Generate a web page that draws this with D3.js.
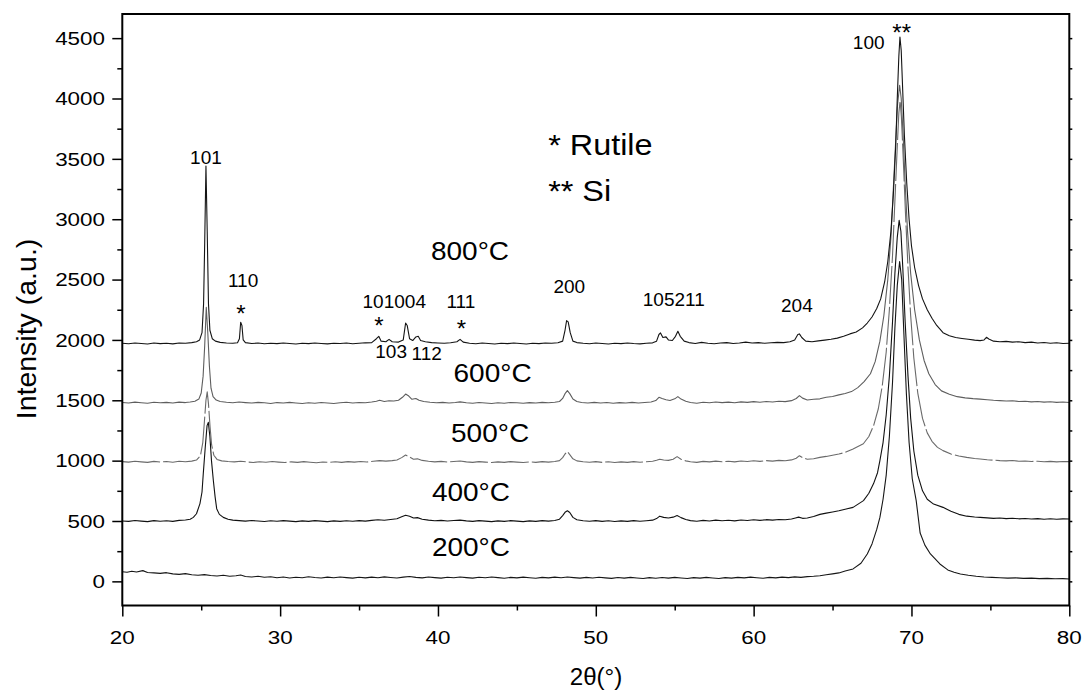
<!DOCTYPE html>
<html>
<head>
<meta charset="utf-8">
<script src="https://cdn.jsdelivr.net/npm/d3@7"></script>
<style>
  body { margin: 0; background: #fff; }
  svg { display: block; }
  text { font-family: "Liberation Sans", Arial, sans-serif; fill: #000; }
</style>
</head>
<body>
<svg id="chart" width="1085" height="690"></svg>
<script>
// ---- axis ticks ----
const xMajorTicks = [20, 30, 40, 50, 60, 70, 80];
const xMinorTicks = [25, 35, 45, 55, 65, 75];
const yMajorTicks = [0, 500, 1000, 1500, 2000, 2500, 3000, 3500, 4000, 4500];
const yMinorTicks = [250, 750, 1250, 1750, 2250, 2750, 3250, 3750, 4250];

// ---- XRD patterns: [2theta (deg), intensity (a.u.)] ----
const pattern800 = [
  [20.0,1972],[20.4,1968],[20.8,1975],[21.2,1970],[21.6,1966],[22.0,1974],[22.4,1969],[22.8,1973],[23.2,1967],[23.6,1975],
  [24.0,1972],[24.4,1978],[24.7,1985],[24.9,2000],[25.05,2060],[25.15,2300],[25.22,2800],[25.3,3440],[25.38,2900],[25.46,2300],
  [25.55,2080],[25.7,2010],[25.9,1990],[26.2,1980],[26.6,1975],[27.0,1972],[27.3,1976],[27.42,2010],[27.5,2146],[27.58,2120],
  [27.66,2000],[27.8,1978],[28.2,1970],[28.6,1974],[29.0,1968],[29.4,1973],[29.8,1969],[30.2,1975],[30.6,1970],[31.0,1966],
  [31.4,1972],[31.8,1969],[32.2,1975],[32.6,1971],[33.0,1967],[33.4,1973],[33.8,1970],[34.2,1975],[34.6,1968],[35.0,1972],
  [35.4,1976],[35.8,1978],[36.1,2010],[36.25,2030],[36.4,1990],[36.7,1985],[36.9,2005],[37.1,1985],[37.5,1982],[37.8,2000],
  [37.95,2140],[38.05,2120],[38.2,2010],[38.4,1995],[38.6,2025],[38.75,2030],[38.9,1995],[39.2,1985],[39.6,1978],[40.0,1975],
  [40.4,1972],[40.8,1976],[41.2,1985],[41.4,2005],[41.6,1982],[42.0,1972],[42.4,1968],[42.8,1974],[43.2,1970],[43.6,1966],
  [44.0,1972],[44.4,1969],[44.8,1975],[45.2,1970],[45.6,1966],[46.0,1973],[46.4,1969],[46.8,1975],[47.2,1972],[47.6,1976],
  [47.9,1990],[48.05,2080],[48.15,2160],[48.25,2150],[48.38,2060],[48.55,1990],[48.8,1978],[49.2,1972],[49.6,1968],[50.0,1974],
  [50.4,1970],[50.8,1966],[51.2,1973],[51.6,1969],[52.0,1975],[52.4,1970],[52.8,1967],[53.2,1973],[53.6,1976],[53.85,1990],
  [54.0,2045],[54.1,2058],[54.25,2020],[54.45,2025],[54.6,2000],[54.85,1995],[55.05,2030],[55.2,2071],[55.35,2030],[55.6,1990],
  [55.9,1978],[56.3,1970],[56.7,1980],[57.1,1972],[57.5,1968],[57.9,1975],[58.3,1978],[58.7,1970],[59.1,1974],[59.5,1982],
  [59.9,1975],[60.3,1978],[60.7,1972],[61.1,1976],[61.5,1980],[61.9,1978],[62.3,1985],[62.6,2000],[62.8,2045],[62.9,2050],
  [63.05,2020],[63.3,1990],[63.7,1985],[64.1,1992],[64.5,1998],[64.9,2005],[65.3,2015],[65.7,2030],[66.1,2050],[66.5,2065],
  [66.9,2100],[67.2,2140],[67.5,2190],[67.8,2260],[68.05,2340],[68.3,2480],[68.5,2650],[68.7,2900],[68.85,3200],[69.0,3600],
  [69.1,4000],[69.2,4350],[69.27,4510],[69.35,4400],[69.45,4050],[69.55,3700],[69.7,3300],[69.85,3000],[70.0,2780],[70.2,2600],
  [70.45,2450],[70.7,2340],[71.0,2250],[71.3,2180],[71.6,2120],[72.0,2060],[72.4,2035],[72.8,2020],[73.2,2012],[73.6,2005],
  [74.0,1998],[74.35,1994],[74.6,2000],[74.75,2022],[74.9,2008],[75.2,1990],[75.6,1985],[76.0,1988],[76.4,1982],[76.8,1985],
  [77.2,1978],[77.6,1982],[78.0,1975],[78.4,1979],[78.8,1973],[79.2,1977],[79.6,1971],[80.0,1973]
];

const pattern600 = [
  [20.0,1482],[20.4,1478],[20.8,1485],[21.2,1480],[21.6,1476],[22.0,1484],[22.4,1479],[22.8,1483],[23.2,1477],[23.6,1485],
  [24.0,1481],[24.3,1486],[24.6,1492],[24.85,1510],[25.0,1560],[25.12,1700],[25.22,1950],[25.32,2270],[25.42,2050],[25.52,1780],
  [25.62,1600],[25.75,1530],[25.95,1502],[26.2,1490],[26.6,1484],[27.0,1480],[27.4,1486],[27.8,1481],[28.2,1477],[28.6,1483],
  [29.0,1479],[29.4,1474],[29.8,1481],[30.2,1477],[30.6,1483],[31.0,1478],[31.4,1474],[31.8,1480],[32.2,1476],[32.6,1482],
  [33.0,1478],[33.4,1473],[33.8,1479],[34.2,1484],[34.6,1478],[35.0,1482],[35.4,1480],[35.8,1486],[36.1,1492],[36.3,1500],
  [36.6,1490],[36.9,1496],[37.2,1494],[37.5,1500],[37.75,1525],[37.95,1552],[38.15,1535],[38.35,1508],[38.6,1515],[38.8,1500],
  [39.1,1490],[39.5,1484],[39.9,1480],[40.3,1483],[40.7,1478],[41.1,1482],[41.4,1487],[41.8,1480],[42.2,1476],[42.6,1482],
  [43.0,1478],[43.4,1474],[43.8,1480],[44.2,1476],[44.6,1482],[45.0,1479],[45.4,1475],[45.8,1481],[46.2,1477],[46.6,1483],
  [47.0,1479],[47.4,1484],[47.7,1490],[47.9,1515],[48.05,1555],[48.2,1580],[48.35,1555],[48.55,1510],[48.8,1490],[49.1,1482],
  [49.5,1478],[49.9,1483],[50.3,1477],[50.7,1482],[51.1,1476],[51.5,1481],[51.9,1477],[52.3,1483],[52.7,1478],[53.1,1482],
  [53.5,1486],[53.8,1498],[54.0,1525],[54.2,1515],[54.45,1505],[54.7,1498],[55.0,1512],[55.2,1530],[55.4,1510],[55.7,1492],
  [56.0,1482],[56.4,1476],[56.8,1484],[57.2,1480],[57.6,1486],[58.0,1481],[58.4,1485],[58.8,1480],[59.2,1487],[59.6,1483],
  [60.0,1489],[60.4,1484],[60.8,1490],[61.2,1486],[61.6,1492],[62.0,1489],[62.4,1497],[62.7,1515],[62.9,1539],[63.1,1518],
  [63.4,1503],[63.8,1508],[64.2,1512],[64.6,1525],[65.0,1532],[65.4,1545],[65.8,1556],[66.2,1572],[66.6,1605],[67.0,1655],
  [67.4,1720],[67.7,1820],[68.0,1990],[68.25,2200],[68.5,2500],[68.7,2850],[68.85,3250],[69.0,3650],[69.12,3950],[69.25,4110],
  [69.35,4000],[69.47,3700],[69.6,3300],[69.75,2900],[69.95,2550],[70.2,2250],[70.5,2000],[70.8,1830],[71.1,1720],[71.5,1630],
  [71.9,1578],[72.4,1550],[72.9,1530],[73.4,1520],[73.9,1514],[74.35,1510],[74.8,1505],[75.2,1500],[75.6,1497],[76.0,1494],
  [76.4,1496],[76.8,1490],[77.2,1492],[77.6,1487],[78.0,1490],[78.4,1485],[78.8,1488],[79.2,1483],[79.6,1486],[80.0,1482]
];

const pattern500 = [
  [20.0,992],[20.4,988],[20.8,995],[21.2,990],[21.6,986],[22.0,994],[22.4,989],[22.8,993],[23.2,987],[23.6,995],
  [24.0,991],[24.4,996],[24.7,1005],[24.95,1040],[25.1,1150],[25.2,1320],[25.3,1500],[25.38,1570],[25.46,1470],[25.56,1280],
  [25.66,1130],[25.8,1045],[26.0,1010],[26.3,998],[26.7,993],[27.1,990],[27.5,995],[27.9,989],[28.3,985],[28.7,991],
  [29.1,987],[29.5,993],[29.9,988],[30.3,984],[30.7,990],[31.1,986],[31.5,992],[31.9,987],[32.3,983],[32.7,989],
  [33.1,985],[33.5,991],[33.9,986],[34.3,992],[34.7,988],[35.1,993],[35.5,989],[35.9,995],[36.3,1000],[36.7,996],
  [37.1,1000],[37.4,1005],[37.7,1025],[37.95,1047],[38.2,1030],[38.45,1012],[38.7,1015],[39.0,1002],[39.4,995],[39.8,990],
  [40.2,994],[40.6,989],[41.0,993],[41.4,997],[41.8,990],[42.2,986],[42.6,992],[43.0,988],[43.4,984],[43.8,990],
  [44.2,986],[44.6,992],[45.0,988],[45.4,984],[45.8,990],[46.2,986],[46.6,992],[47.0,988],[47.4,993],[47.7,1000],
  [47.9,1025],[48.05,1055],[48.2,1075],[48.35,1050],[48.55,1015],[48.8,998],[49.2,991],[49.6,987],[50.0,992],[50.4,986],
  [50.8,991],[51.2,985],[51.6,990],[52.0,986],[52.4,992],[52.8,987],[53.2,991],[53.6,995],[53.85,1003],[54.05,1012],
  [54.3,1005],[54.6,1002],[54.9,1012],[55.15,1033],[55.4,1012],[55.7,998],[56.0,991],[56.4,986],[56.8,994],[57.2,990],
  [57.6,996],[58.0,991],[58.4,995],[58.8,990],[59.2,997],[59.6,993],[60.0,999],[60.4,994],[60.8,1000],[61.2,996],
  [61.6,1002],[62.0,999],[62.4,1006],[62.7,1020],[62.9,1041],[63.1,1025],[63.4,1012],[63.8,1016],[64.2,1027],[64.6,1035],
  [65.0,1045],[65.4,1055],[65.8,1068],[66.3,1097],[66.95,1140],[67.3,1200],[67.6,1290],[67.9,1430],[68.15,1620],[68.4,1900],
  [68.6,2250],[68.8,2700],[68.95,3150],[69.1,3600],[69.2,3880],[69.28,3980],[69.36,3850],[69.48,3500],[69.62,3050],[69.78,2600],
  [69.95,2200],[70.15,1850],[70.4,1560],[70.7,1350],[71.0,1230],[71.3,1160],[71.65,1110],[72.0,1083],[72.5,1055],[73.0,1038],
  [73.5,1027],[74.0,1018],[74.35,1014],[74.8,1008],[75.2,1004],[75.6,1000],[76.0,998],[76.4,1001],[76.8,995],[77.2,997],
  [77.6,993],[78.0,995],[78.4,991],[78.8,994],[79.2,990],[79.6,993],[80.0,992]
];

const pattern400 = [
  [20.0,500],[20.4,497],[20.8,504],[21.2,499],[21.6,495],[22.0,503],[22.4,498],[22.8,502],[23.2,497],[23.6,505],
  [24.0,508],[24.3,515],[24.5,530],[24.7,560],[24.92,644],[25.05,740],[25.13,892],[25.25,1100],[25.37,1290],[25.45,1317],
  [25.55,1200],[25.65,1000],[25.77,834],[25.88,700],[25.98,602],[26.15,555],[26.4,530],[26.7,515],[27.0,507],[27.4,503],
  [27.8,499],[28.2,504],[28.6,500],[29.0,496],[29.4,502],[29.8,498],[30.2,503],[30.6,499],[31.0,495],[31.4,501],
  [31.8,497],[32.2,503],[32.6,499],[33.0,495],[33.4,501],[33.8,497],[34.2,502],[34.6,498],[35.0,503],[35.4,499],
  [35.8,505],[36.2,510],[36.6,506],[37.0,512],[37.4,518],[37.7,535],[37.95,548],[38.2,540],[38.45,525],[38.7,528],
  [39.0,515],[39.4,507],[39.8,502],[40.2,505],[40.6,500],[41.0,504],[41.4,507],[41.8,501],[42.2,497],[42.6,503],
  [43.0,499],[43.4,495],[43.8,501],[44.2,497],[44.6,503],[45.0,499],[45.4,495],[45.8,501],[46.2,497],[46.6,503],
  [47.0,499],[47.4,504],[47.7,515],[47.9,545],[48.05,572],[48.2,585],[48.35,570],[48.55,530],[48.8,510],[49.2,502],
  [49.6,498],[50.0,503],[50.4,497],[50.8,502],[51.2,496],[51.6,501],[52.0,497],[52.4,503],[52.8,498],[53.2,502],
  [53.6,507],[53.85,520],[54.05,540],[54.3,530],[54.6,525],[54.9,532],[55.15,545],[55.4,528],[55.7,512],[56.0,503],
  [56.4,498],[56.8,505],[57.2,500],[57.6,507],[58.0,502],[58.4,506],[58.8,501],[59.2,508],[59.6,504],[60.0,510],
  [60.4,505],[60.8,511],[61.2,507],[61.6,513],[62.0,510],[62.4,517],[62.65,525],[62.85,532],[63.1,522],[63.4,525],
  [63.8,538],[64.2,555],[64.6,565],[65.0,575],[65.4,585],[65.8,598],[66.3,613],[66.96,669],[67.3,730],[67.6,810],
  [67.85,900],[68.0,1000],[68.2,1150],[68.4,1380],[68.6,1700],[68.8,2150],[68.95,2550],[69.1,2850],[69.22,2990],[69.33,2900],
  [69.45,2600],[69.6,2150],[69.78,1700],[69.95,1350],[70.15,1080],[70.4,880],[70.7,750],[71.0,680],[71.4,640],[72.0,613],
  [72.5,580],[73.0,555],[73.5,540],[74.0,533],[74.35,530],[74.8,526],[75.2,522],[75.6,525],[76.0,520],[76.4,523],
  [76.8,518],[77.2,521],[77.6,516],[78.0,520],[78.4,515],[78.8,519],[79.2,514],[79.6,518],[80.0,517]
];

const pattern200 = [
  [20.0,80],[20.3,76],[20.6,84],[20.9,78],[21.3,89],[21.6,74],[22.0,70],[22.4,66],[22.8,72],[23.2,62],
  [23.6,58],[24.0,64],[24.4,55],[24.8,50],[25.2,56],[25.6,48],[26.0,44],[26.4,50],[26.8,42],[27.2,46],
  [27.5,52],[27.8,40],[28.2,36],[28.6,42],[29.0,34],[29.4,38],[29.8,30],[30.2,36],[30.6,28],[31.0,34],
  [31.4,30],[31.8,38],[32.2,32],[32.6,28],[33.0,35],[33.4,30],[33.8,36],[34.2,31],[34.6,27],[35.0,34],
  [35.4,29],[35.8,35],[36.2,30],[36.6,37],[37.0,32],[37.4,28],[37.8,35],[38.2,40],[38.6,33],[39.0,29],
  [39.4,36],[39.8,31],[40.2,27],[40.6,34],[41.0,30],[41.4,36],[41.8,31],[42.2,27],[42.6,34],[43.0,30],
  [43.4,36],[43.8,31],[44.2,26],[44.6,33],[45.0,29],[45.4,35],[45.8,30],[46.2,26],[46.6,33],[47.0,29],
  [47.4,35],[47.8,30],[48.2,36],[48.6,31],[49.0,27],[49.4,33],[49.8,28],[50.2,34],[50.6,29],[51.0,25],
  [51.4,32],[51.8,27],[52.2,33],[52.6,28],[53.0,24],[53.4,31],[53.8,26],[54.2,32],[54.6,27],[55.0,33],
  [55.4,28],[55.8,24],[56.2,31],[56.6,27],[57.0,33],[57.4,28],[57.8,24],[58.2,31],[58.6,27],[59.0,33],
  [59.4,29],[59.8,35],[60.2,30],[60.6,26],[61.0,33],[61.4,29],[61.8,35],[62.2,31],[62.6,37],[63.0,33],
  [63.4,39],[63.8,42],[64.2,47],[64.6,55],[65.0,62],[65.4,70],[65.8,85],[66.3,103],[66.8,150],[67.2,227],
  [67.5,310],[67.8,430],[68.0,530],[68.2,680],[68.4,880],[68.6,1200],[68.8,1650],[68.95,2100],[69.1,2450],[69.25,2650],
  [69.38,2500],[69.52,2050],[69.68,1550],[69.85,1150],[70.05,850],[70.3,669],[70.55,400],[70.85,300],[71.2,227],[71.8,144],
  [72.3,95],[72.7,75],[73.1,61],[73.6,50],[74.1,42],[74.6,36],[75.1,33],[75.6,30],[76.1,27],[76.6,29],
  [77.1,25],[77.6,27],[78.1,23],[78.6,25],[79.1,21],[79.6,23],[80.0,20]
];

// ---- text content, anchored in data coordinates (2theta, intensity) ----
const reflectionLabels = [
  ["101", 25.3, 3460], ["110", 27.65, 2435], ["101004", 37.23, 2265], ["103", 37.03, 1848],
  ["112", 39.29, 1831], ["111", 41.45, 2265], ["200", 48.32, 2385], ["105211", 54.94, 2282],
  ["204", 62.74, 2232], ["100", 67.29, 4409]
];
const phaseMarks = [["*", 27.51, 2152], ["*", 36.26, 2047], ["*", 41.49, 2028], ["**", 69.38, 4474]];
const temperatureLabels = [
  ["800°C", 42.03, 2660], ["600°C", 43.46, 1651], ["500°C", 43.30, 1153],
  ["400°C", 42.09, 662], ["200°C", 42.09, 206]
];
const phaseKey = [["* Rutile", 46.98, 3532], ["** Si", 46.98, 3150]];

// ---- drawing ----
const svg = d3.select("#chart");
const x = d3.scaleLinear().domain([20, 80]).range([122.3, 1069.3]);
const y = d3.scaleLinear().domain([-200, 4700]).range([605.5, 14]);

const curves = [
  { data: pattern200, color: "#161616", dash: null },
  { data: pattern400, color: "#111111", dash: null },
  { data: pattern500, color: "#6a6a6a", dash: "38,3" },
  { data: pattern600, color: "#5e5e5e", dash: null },
  { data: pattern800, color: "#141414", dash: null }
];

const line = d3.line().x(d => x(d[0])).y(d => y(d[1]));
svg.append("g").selectAll("path").data(curves).join("path")
  .attr("d", d => line(d.data))
  .attr("fill", "none")
  .attr("stroke", d => d.color)
  .attr("stroke-width", 1.1)
  .attr("stroke-linejoin", "round")
  .attr("stroke-dasharray", d => d.dash);

// ticks
function tickAxis(axis, transform) {
  const g = svg.append("g").attr("transform", transform).call(axis);
  g.select(".domain").remove();
  g.selectAll("line").attr("stroke", "#000").attr("stroke-width", 1.5);
  g.selectAll("text").remove();
}
tickAxis(d3.axisLeft(y).tickValues(yMajorTicks).tickSize(10), `translate(${x(20)},0)`);
tickAxis(d3.axisLeft(y).tickValues(yMinorTicks).tickSize(5), `translate(${x(20)},0)`);
tickAxis(d3.axisBottom(x).tickValues(xMajorTicks).tickSize(11), `translate(0,${y(-200)})`);
tickAxis(d3.axisBottom(x).tickValues(xMinorTicks).tickSize(5), `translate(0,${y(-200)})`);
tickAxis(d3.axisRight(y).tickValues(yMajorTicks.concat(yMinorTicks)).tickSize(3), `translate(${x(80)},0)`);

// frame
svg.append("rect")
  .attr("x", x(20)).attr("y", y(4700))
  .attr("width", x(80) - x(20)).attr("height", y(-200) - y(4700))
  .attr("fill", "none").attr("stroke", "#000").attr("stroke-width", 2);

function label(str, px, py, size, anchor, sx) {
  svg.append("text")
    .attr("transform", `translate(${px},${py}) scale(${sx},1)`)
    .attr("text-anchor", anchor)
    .style("font-size", size + "px")
    .text(str);
}

// tick labels
yMajorTicks.forEach(v => label(String(v), x(20) - 17.3, y(v) + 6.7, 19, "end", 1.18));
xMajorTicks.forEach(v => label(String(v), x(v), 644, 19, "middle", 1.18));

// axis titles
svg.append("text")
  .attr("transform", "translate(36,329) rotate(-90)")
  .attr("text-anchor", "middle")
  .style("font-size", "28.5px")
  .text("Intensity (a.u.)");
label("2θ(°)", 596, 685, 23, "middle", 1.05);

// annotations
reflectionLabels.forEach(d => label(d[0], x(d[1]), y(d[2]), 19, "middle", 1.0));
phaseMarks.forEach(d => label(d[0], x(d[1]), y(d[2]), 24, "middle", 1.0));
temperatureLabels.forEach(d => label(d[0], x(d[1]), y(d[2]), 25, "middle", 1.12));
phaseKey.forEach(d => label(d[0], x(d[1]), y(d[2]), 30, "start", 1.08));
</script>
</body>
</html>
